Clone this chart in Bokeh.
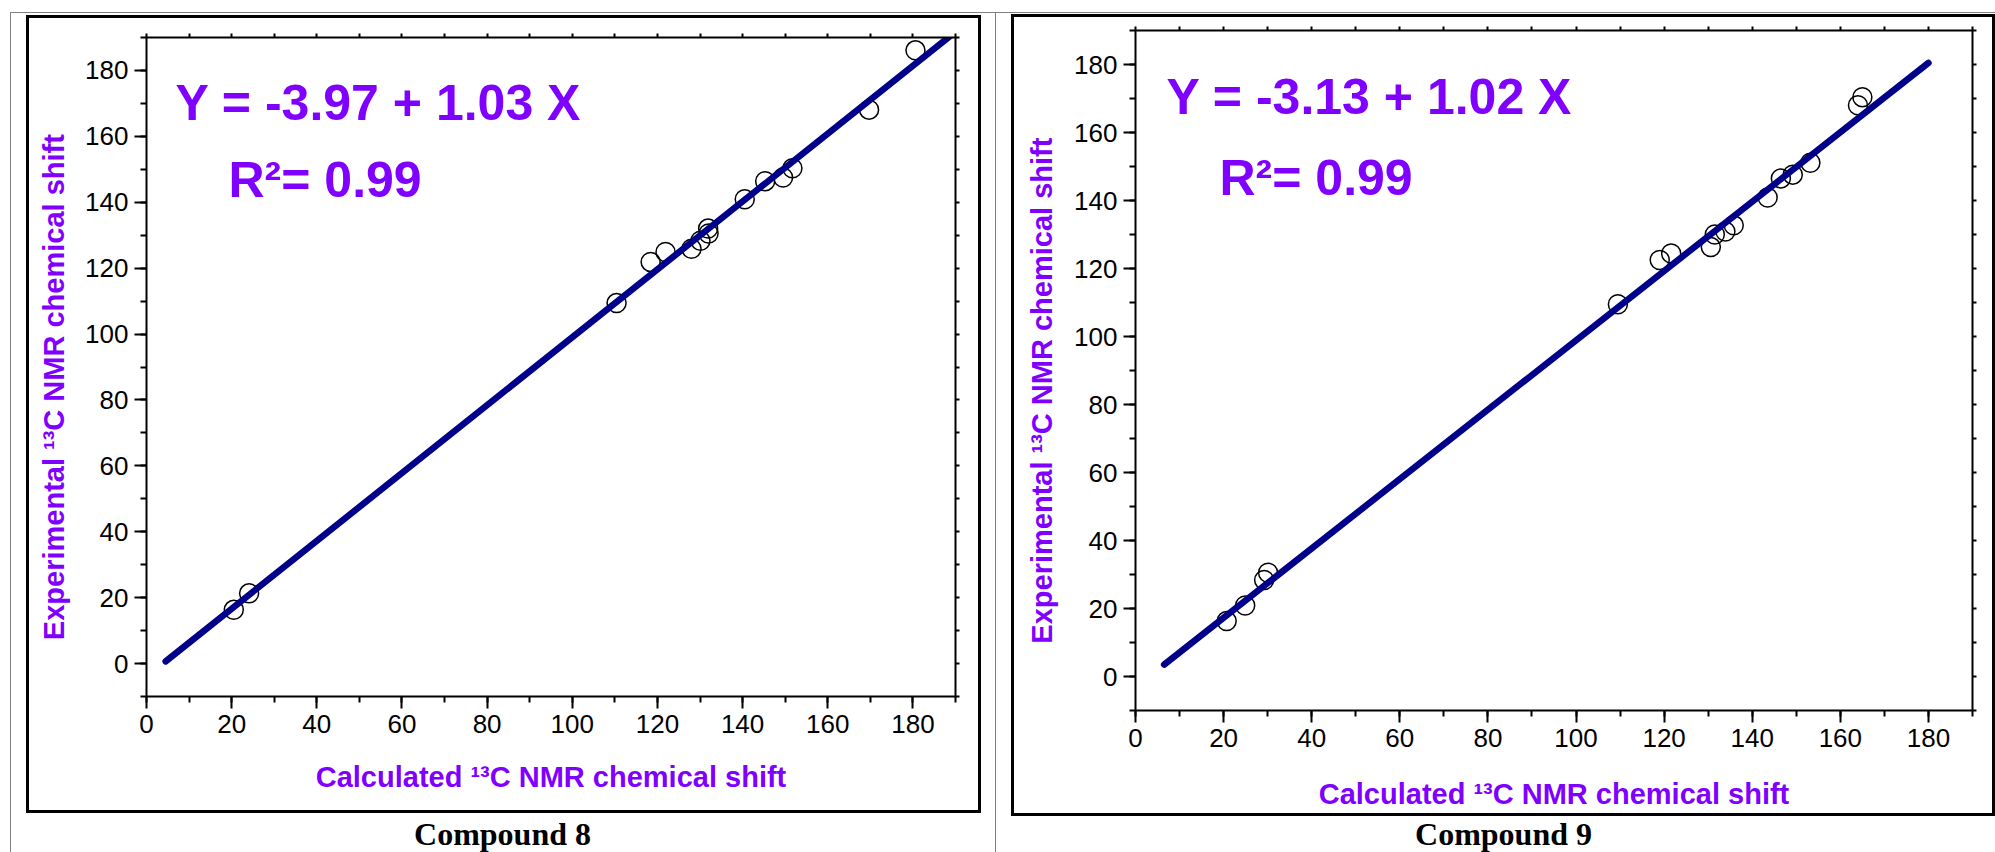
from bokeh.plotting import figure
from bokeh.layouts import row, column
from bokeh.models import (LinearAxis, SingleIntervalTicker, FixedTicker, Range1d, Label)
from bokeh.embed import file_html
from bokeh.resources import INLINE

# ---- Compound 8: calculated vs experimental 13C chemical shifts (ppm) ----
calc_8 = [20.5, 24.1, 110.4, 118.4, 121.9, 128.0, 130.1, 132.0, 131.9,
          140.5, 145.3, 149.5, 151.7, 169.7, 180.6]
exp_8 = [16.3, 21.3, 109.4, 121.9, 124.9, 125.9, 128.3, 130.5, 132.0,
         140.9, 146.4, 147.5, 150.3, 168.1, 186.1]
intercept_8 = -3.97
slope_8 = 1.03
r2_8 = 0.99
fit_x_8 = [4.5, 190.0]

# ---- Compound 9 ----
calc_9 = [20.7, 24.9, 29.2, 30.1, 109.5, 119.0, 121.6, 130.6, 131.5,
          133.9, 135.8, 143.5, 146.5, 149.2, 153.2, 164.0, 165.0]
exp_9 = [16.3, 20.9, 28.4, 30.5, 109.5, 122.5, 124.4, 126.3, 130.0,
         130.9, 132.7, 140.9, 146.5, 147.6, 151.1, 168.0, 170.4]
intercept_9 = -3.13
slope_9 = 1.02
r2_9 = 0.99
fit_x_9 = [6.5, 180.0]

captions = ["Compound 8", "Compound 9"]
x_label = "Calculated \u00b9\u00b3C NMR chemical shift"
y_label = "Experimental \u00b9\u00b3C NMR chemical shift"

X_LIM = (0, 190)
Y_LIM = (-10, 190)

PURPLE = "#8000FF"
NAVY = "#00008B"
RULE = "1px solid #808080"
BOX = "3px solid #000000"
SANS = "Liberation Sans"
SERIF = "Liberation Serif"

# Page-pixel geometry of each panel.  fx/fy: frame top-left on the page,
# fw/fh: frame size, canvas: (left, top, width, height) of the chart canvas,
# box_margin: CSS margin around the bordered chart, cap: caption canvas size
# and caption centre/baseline inside it.
GEOM_A = dict(fx=146, fy=37, fw=809, fh=659, canvas=(29, 18, 949, 792),
              box_margin=(2, 14, 0, 15), cap_w=984, cap_h=39, cap_pos=(491, 33),
              eq=(175, 121), r2=(228, 198), xstand=25, ystand=12)
GEOM_B = dict(fx=1135, fy=30, fw=837, fh=680, canvas=(1014, 17, 978, 796),
              box_margin=(1, 0, 0, 15), cap_w=999, cap_h=36, cap_pos=(507, 30),
              eq=(1166, 115), r2=(1219, 196), xstand=28, ystand=13)

BASELINE_SHIFT = 0.38  # alphabetic baseline correction, fraction of font size


def to_data(g, px, py):
    """Convert a page pixel position into the panel's data coordinates."""
    x = X_LIM[0] + (px - g["fx"]) / g["fw"] * (X_LIM[1] - X_LIM[0])
    y = Y_LIM[1] - (py - g["fy"]) / g["fh"] * (Y_LIM[1] - Y_LIM[0])
    return x, y


def style_axis(ax, labelled):
    ax.axis_line_color = "black"
    ax.axis_line_width = 2
    ax.major_tick_line_color = "black"
    ax.major_tick_line_width = 2
    ax.minor_tick_line_color = "black"
    ax.minor_tick_line_width = 2
    ax.major_tick_in = 0
    ax.minor_tick_in = 0
    if labelled:
        ax.ticker = SingleIntervalTicker(interval=20, num_minor_ticks=2)
        ax.major_tick_out = 12
        ax.minor_tick_out = 6
        ax.major_label_text_font = SANS
        ax.major_label_text_font_size = "26px"
        ax.major_label_text_color = "black"
        ax.major_label_standoff = 6
        ax.axis_label_text_font = SANS
        ax.axis_label_text_font_style = "bold"
        ax.axis_label_text_font_size = "29px"
        ax.axis_label_text_color = PURPLE
    else:
        # opposite frame edges: short unlabelled ticks every 10 units
        ax.ticker = FixedTicker(ticks=[], minor_ticks=list(range(-10, 200, 10)))
        ax.major_tick_out = 0
        ax.minor_tick_out = 4


def make_chart(g, calc, expt, b0, b1, r2, fit_x):
    cl, ct, cw, ch = g["canvas"]
    fl = g["fx"] - cl
    ft = g["fy"] - ct
    p = figure(
        width=cw, height=ch, frame_width=g["fw"], frame_height=g["fh"],
        min_border_left=fl, min_border_top=ft,
        min_border_right=cw - fl - g["fw"], min_border_bottom=ch - ft - g["fh"],
        x_range=Range1d(*X_LIM), y_range=Range1d(*Y_LIM),
        output_backend="svg", toolbar_location=None,
        background_fill_color="white", border_fill_color="white",
    )
    p.outline_line_color = None
    p.xgrid.visible = False
    p.ygrid.visible = False
    style_axis(p.xaxis[0], True)
    style_axis(p.yaxis[0], True)
    p.xaxis[0].axis_label = x_label
    p.xaxis[0].axis_label_standoff = g["xstand"]
    # trailing no-break spaces nudge the centred vertical title downwards
    p.yaxis[0].axis_label = y_label + "\u00a0" * 5
    p.yaxis[0].axis_label_standoff = g["ystand"]
    top_ax = LinearAxis()
    style_axis(top_ax, False)
    p.add_layout(top_ax, "above")
    right_ax = LinearAxis()
    style_axis(right_ax, False)
    p.add_layout(right_ax, "right")

    # observed points, then the least-squares line drawn over them
    p.scatter(calc, expt, marker="circle", size=19, fill_color=None,
              line_color="black", line_width=1.5)
    p.line(fit_x, [b0 + b1 * x for x in fit_x], line_color=NAVY,
           line_width=6.5, line_cap="round")

    sign = "-" if b0 < 0 else ""
    for pos, txt in ((g["eq"], f"Y = {sign}{abs(b0):.2f} + {b1:.2f} X"),
                     (g["r2"], f"R\u00b2= {r2:.2f}")):
        x, y = to_data(g, pos[0], pos[1] - BASELINE_SHIFT * 50)
        p.add_layout(Label(x=x, y=y, text=txt, text_font=SANS,
                           text_font_style="bold", text_font_size="50px",
                           text_color=PURPLE, text_baseline="alphabetic"))
    return p


def make_caption(g, text):
    w, h = g["cap_w"], g["cap_h"]
    c = figure(width=w, height=h, frame_width=w, frame_height=h,
               min_border=0, x_range=Range1d(0, w), y_range=Range1d(0, h),
               x_axis_type=None, y_axis_type=None,
               output_backend="svg", toolbar_location=None,
               background_fill_color="white", border_fill_color="white")
    c.outline_line_color = None
    c.xgrid.visible = False
    c.ygrid.visible = False
    cx, base = g["cap_pos"]
    c.add_layout(Label(x=cx, y=h - base + BASELINE_SHIFT * 32, text=text,
                       text_font=SERIF, text_font_style="bold",
                       text_font_size="32px", text_color="black",
                       text_align="center", text_baseline="alphabetic"))
    return c


def make_cell(g, calc, expt, b0, b1, r2, fit_x, caption, rule_right):
    chart = make_chart(g, calc, expt, b0, b1, r2, fit_x)
    framed = column(chart, margin=g["box_margin"], styles={"border": BOX})
    cap = make_caption(g, caption)
    styles = {"border-right": RULE} if rule_right else {}
    return column(framed, cap, styles=styles)


cell8 = make_cell(GEOM_A, calc_8, exp_8, intercept_8, slope_8, r2_8, fit_x_8,
                  captions[0], True)
cell9 = make_cell(GEOM_B, calc_9, exp_9, intercept_9, slope_9, r2_9, fit_x_9,
                  captions[1], False)

p = row(cell8, cell9, margin=(12, 0, 0, 10),
        styles={"border-top": RULE, "border-left": RULE})
open("out.html", "w").write(file_html(p, INLINE))
